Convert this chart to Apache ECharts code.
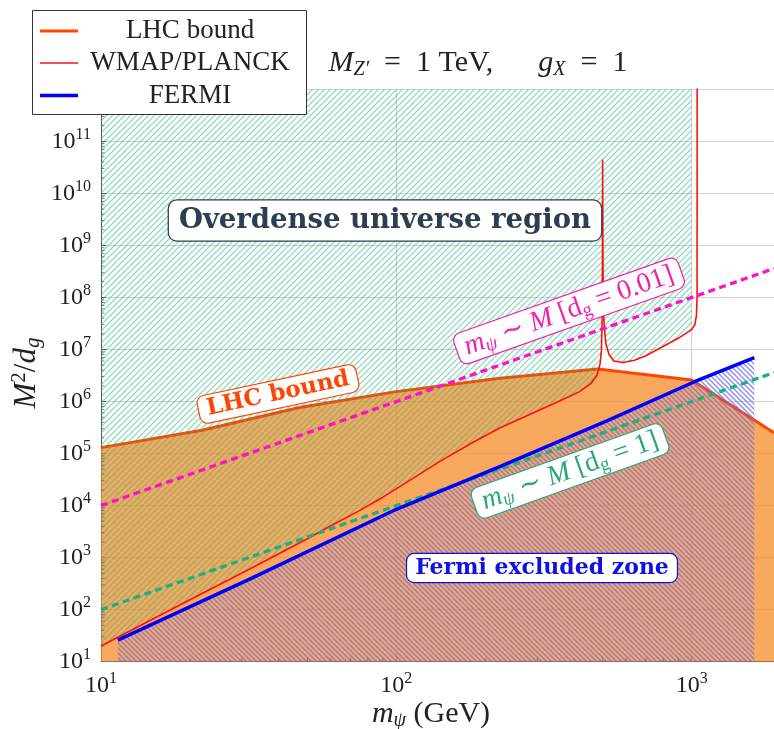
<!DOCTYPE html>
<html><head><meta charset="utf-8">
<script src="https://cdn.jsdelivr.net/npm/echarts@6/dist/echarts.min.js"></script>
<style>html,body{margin:0;padding:0;background:#fff}#c{width:774px;height:729px}</style>
</head><body><div id="c"></div>
<script>
// ---------------- data ----------------
// WMAP/PLANCK relic-density curve [m_psi (GeV), M^2/d_g]
const wmapPlanck = [
  [10, 20], [20, 155], [32, 610], [50, 2300], [60, 4100], [75, 8000], [90, 1.45e4],
  [110, 2.95e4], [140, 7.0e4], [180, 1.6e5], [224, 3.1e5], [290, 6.0e5],
  [357, 1.02e6], [417, 1.55e6], [455, 2.2e6], [478, 3.2e6], [490, 5.4e6],
  [495, 1e7], [497.5, 4e7], [499, 1e9], [499.5, 4.5e10], [500.5, 1e9],
  [502, 1e8], [505, 3e7], [512, 1.3e7], [525, 8e6], [545, 6e6], [585, 5.6e6],
  [640, 6.2e6], [700, 7.6e6], [800, 1.14e7], [900, 1.64e7], [1000, 2.4e7],
  [1025, 3e7], [1038, 4.5e7], [1043, 1e8], [1044, 1e13]
];
// LHC bound (upper edge of the orange region)
const lhcBound = [
  [10, 1.3e5], [22, 2.8e5], [47, 7.7e5], [100, 1.55e6], [224, 2.8e6],
  [480, 4.2e6], [1000, 2.6e6], [1900, 2.5e5]
];
// FERMI bound (blue line)
const fermiBound = [
  [11.4, 26], [32, 390], [100, 8.5e3], [224, 5.6e4], [514, 4.2e5],
  [1022, 2.4e6], [1630, 7e6]
];
// m_psi ~ M lines
const lineDg001 = [[10, 1e4], [1900, 3.6e8]];
const lineDg1 = [[10, 100], [1900, 3.6e6]];
// region limits
const overdenseRight = 1000;
const yFloor = 10, yCeil = 1e12;
const xFloor = 10, xCeil = 1900;
// tick values
const xDecades = [10, 100, 1000];
const yDecades = [10, 1e2, 1e3, 1e4, 1e5, 1e6, 1e7, 1e8, 1e9, 1e10, 1e11];
const minorMultipliers = [2, 3, 4, 5, 6, 7, 8, 9];

// ---------------- helpers ----------------
function hatch(spacing, color, width, dir) {
  const c = document.createElement('canvas');
  c.width = spacing; c.height = spacing;
  const g = c.getContext('2d');
  g.strokeStyle = color; g.lineWidth = width; g.lineCap = 'square';
  g.beginPath();
  for (let k = -1; k <= 1; k++) {
    if (dir === 'ne') { g.moveTo(k * spacing, spacing); g.lineTo(k * spacing + spacing, 0); }
    else { g.moveTo(k * spacing, 0); g.lineTo(k * spacing + spacing, spacing); }
  }
  g.stroke();
  return { image: c, repeat: 'repeat' };
}
function polySeries(pts, fill, z) {
  return {
    type: 'custom', z, silent: true, clip: true, animation: false,
    data: [[pts[0][0], pts[0][1]]],
    renderItem(params, api) {
      return { type: 'polygon', shape: { points: pts.map(p => api.coord(p)) }, style: { fill, stroke: null } };
    }
  };
}
function lineSeries(data, color, width, z, type) {
  return {
    type: 'line', data, z, silent: true, animation: false, showSymbol: false, symbol: 'none',
    lineStyle: { color, width, type: type || 'solid', cap: 'butt' }, clip: true
  };
}
function tickSeries(data, horizontal) {
  return {
    type: 'custom', z: 9, silent: true, animation: false, data,
    renderItem(params, api) {
      const p = api.coord([api.value(0), api.value(1)]);
      const shape = horizontal ? { x1: p[0], y1: p[1], x2: p[0] + 3.5, y2: p[1] }
                               : { x1: p[0], y1: p[1], x2: p[0], y2: p[1] - 3.5 };
      return { type: 'line', shape, style: { stroke: '#666', lineWidth: 0.8 } };
    }
  };
}

const overdensePoly = wmapPlanck.filter(p => p[0] <= overdenseRight)
  .concat([[overdenseRight, yCeil], [xFloor, yCeil]]);
const lhcPoly = lhcBound.concat([[xCeil, yFloor], [xFloor, yFloor]]);
const fermiPoly = fermiBound.concat([[fermiBound[fermiBound.length - 1][0], yFloor], [fermiBound[0][0], yFloor]]);

const xMinor = [], yMinor = [];
xDecades.forEach(d => minorMultipliers.forEach(m => { if (d * m < xCeil) xMinor.push([d * m, yFloor]); }));
yDecades.forEach(d => minorMultipliers.forEach(m => { if (d * m < yCeil) yMinor.push([xFloor, d * m]); }));

const SERIF = '"Liberation Serif", "DejaVu Serif", serif';
const BSERIF = '"DejaVu Serif", serif';
const powRich = {
  b: { fontSize: 24, fontFamily: SERIF, color: '#222' },
  e: { fontSize: 16, fontFamily: SERIF, color: '#222', padding: [0, 0, 14, 0] }
};
const fmtPow = v => '{b|10}{e|' + Math.round(Math.log10(v)) + '}';

const mathRich = (size, color) => ({
  i: { fontSize: size, fontFamily: SERIF, fontStyle: 'italic', color },
  n: { fontSize: size, fontFamily: SERIF, color },
  s: { fontSize: Math.round(size * 0.68), fontFamily: SERIF, fontStyle: 'italic', color, padding: [Math.round(size * 0.42), 0, 0, 0] },
  r: { fontSize: Math.round(size * 0.68), fontFamily: SERIF, color, padding: [Math.round(size * 0.42), 0, 0, 0] },
  p: { fontSize: Math.round(size * 0.68), fontFamily: SERIF, color, padding: [0, 0, Math.round(size * 0.5), 0] }
});

const greenHatch = hatch(6, 'rgba(40,180,130,0.5)', 1.3, 'ne');
const fermiHatch = hatch(5, 'rgba(110,110,235,0.75)', 1.5, 'nw');

const option = {
  animation: false,
  backgroundColor: '#fff',
  grid: { left: 101, right: 0, top: 89.3, bottom: 67.3, containLabel: false },
  xAxis: {
    type: 'log', logBase: 10, min: xFloor, max: xCeil, interval: 1,
    axisLine: { show: true, onZero: false, lineStyle: { color: '#555', width: 1 } },
    axisTick: { show: true, inside: true, length: 5, lineStyle: { color: '#555' } },
    axisLabel: { showMaxLabel: false, formatter: fmtPow, rich: powRich, margin: 9 },
    splitLine: { show: true, lineStyle: { color: '#d2d2d2', width: 1 } },
    minorTick: { show: false }
  },
  yAxis: {
    type: 'log', logBase: 10, min: yFloor, max: yCeil, interval: 1, splitNumber: 11,
    axisLine: { show: true, onZero: false, lineStyle: { color: '#555', width: 1 } },
    axisTick: { show: true, inside: true, length: 5, lineStyle: { color: '#555' } },
    axisLabel: { formatter: fmtPow, rich: powRich, margin: 10 },
    splitLine: { show: true, lineStyle: { color: '#d2d2d2', width: 1 } }
  },
  series: [
    polySeries(lhcPoly, 'rgba(245,140,40,0.75)', 1),
    lineSeries(lhcBound, '#ff4500', 3, 2),
    polySeries(overdensePoly, greenHatch, 3),
    polySeries(fermiPoly, fermiHatch, 4),
    lineSeries(wmapPlanck, '#ff1010', 1.6, 5),
    lineSeries(lineDg001, '#ff10c8', 3.3, 6, [7, 4.5]),
    lineSeries(lineDg1, '#1db07f', 3.3, 6, [7, 4.5]),
    lineSeries(fermiBound, '#0000ff', 3.5, 7),
    tickSeries(xMinor, false),
    tickSeries(yMinor, true)
  ],
  graphic: [
    // annotations
    { type: 'text', x: 385, y: 220.5, z: 50, style: {
      text: 'Overdense universe region', fontSize: 27.5, fontWeight: 'bold', fontFamily: BSERIF,
      fill: '#2c3e50', align: 'center', verticalAlign: 'middle',
      backgroundColor: '#fff', borderColor: '#2c3e50', borderWidth: 1.3, borderRadius: 8, padding: [6, 10, 6, 10] } },
    { type: 'text', x: 278, y: 394, rotation: 12 * Math.PI / 180, z: 50, style: {
      text: 'LHC bound', fontSize: 23, fontWeight: 'bold', fontFamily: BSERIF,
      fill: '#ff4500', align: 'center', verticalAlign: 'middle',
      backgroundColor: '#fff', borderColor: '#ff4500', borderWidth: 1.2, borderRadius: 7, padding: [2, 8, 2, 8] } },
    { type: 'text', x: 569, y: 311, rotation: 19.5 * Math.PI / 180, z: 50, style: {
      text: '{i|m}{s|ψ}{n| ∼ }{i|M}{n| [d}{r|g}{n| = 0.01]}', rich: mathRich(28, '#f020b0'),
      fill: '#f020b0', align: 'center', verticalAlign: 'middle',
      backgroundColor: '#fff', borderColor: '#f020b0', borderWidth: 1.2, borderRadius: 7, padding: [0, 8, 0, 8] } },
    { type: 'text', x: 570, y: 471, rotation: 19.7 * Math.PI / 180, z: 50, style: {
      text: '{i|m}{s|ψ}{n| ∼ }{i|M}{n| [d}{r|g}{n| = 1]}', rich: mathRich(28, '#27a878'),
      fill: '#27a878', align: 'center', verticalAlign: 'middle',
      backgroundColor: '#fff', borderColor: '#27a878', borderWidth: 1.2, borderRadius: 7, padding: [0, 8, 0, 8] } },
    { type: 'text', x: 542, y: 568, z: 50, style: {
      text: 'Fermi excluded zone', fontSize: 22, fontWeight: 'bold', fontFamily: BSERIF,
      fill: '#1010e0', align: 'center', verticalAlign: 'middle',
      backgroundColor: '#fff', borderColor: '#1010e0', borderWidth: 1.2, borderRadius: 7, padding: [3, 8, 3, 8] } },
    // title
    { type: 'text', x: 478, y: 63, z: 50, style: {
      text: '{i|M}{s|Z′}{n|  =  1 TeV,      }{i|g}{s|X}{n|  =  1}', rich: mathRich(30, '#222'),
      fill: '#222', align: 'center', verticalAlign: 'middle' } },
    // axis names
    { type: 'text', x: 431, y: 714, z: 50, style: {
      text: '{i|m}{s|ψ}{n| (GeV)}', rich: mathRich(30, '#222'),
      fill: '#222', align: 'center', verticalAlign: 'middle' } },
    { type: 'text', x: 27, y: 373, rotation: Math.PI / 2, z: 50, style: {
      text: '{i|M}{p|2}{n|/}{i|d}{s|g}', rich: mathRich(31, '#222'),
      fill: '#222', align: 'center', verticalAlign: 'middle' } },
    // legend
    { type: 'group', z: 100, children: [
      { type: 'rect', shape: { x: 32.5, y: 10.5, width: 274, height: 104 }, style: { fill: '#fff', stroke: '#333', lineWidth: 1 }, z: 100 },
      { type: 'line', shape: { x1: 40, y1: 31, x2: 78, y2: 31 }, style: { stroke: '#ff4500', lineWidth: 3 }, z: 101 },
      { type: 'line', shape: { x1: 40, y1: 63, x2: 78, y2: 63 }, style: { stroke: '#ff1010', lineWidth: 1.3 }, z: 101 },
      { type: 'line', shape: { x1: 40, y1: 95.5, x2: 78, y2: 95.5 }, style: { stroke: '#0000ff', lineWidth: 3.5 }, z: 101 },
      { type: 'text', x: 190, y: 31, z: 101, style: { text: 'LHC bound', fontSize: 27, fontFamily: SERIF, fill: '#222', align: 'center', verticalAlign: 'middle' } },
      { type: 'text', x: 190, y: 63, z: 101, style: { text: 'WMAP/PLANCK', fontSize: 27, fontFamily: SERIF, fill: '#222', align: 'center', verticalAlign: 'middle' } },
      { type: 'text', x: 190, y: 95.5, z: 101, style: { text: 'FERMI', fontSize: 27, fontFamily: SERIF, fill: '#222', align: 'center', verticalAlign: 'middle' } }
    ] }
  ]
};
const chart = echarts.init(document.getElementById('c'));
chart.setOption(option);
</script>
</body></html>
